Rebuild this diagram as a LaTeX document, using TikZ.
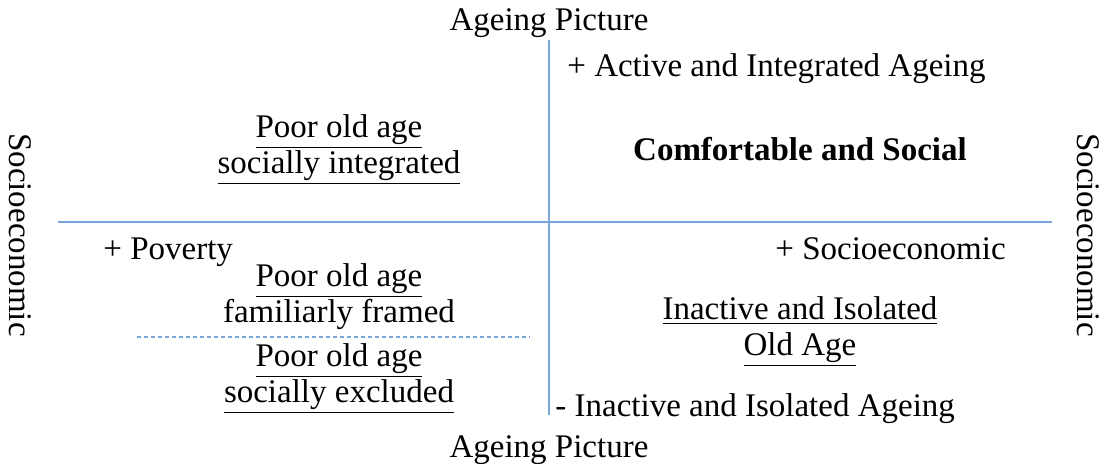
\documentclass[tikz,border=0pt]{standalone}
\usepackage{fontspec}
\setmainfont{Liberation Serif}
\usetikzlibrary{positioning}
\definecolor{axisblue}{RGB}{120,166,218}

\begin{document}
\begin{tikzpicture}[x=0.5pt,y=-0.5pt,inner sep=0pt,
  lbl/.style={font=\fontsize{16.5}{18}\selectfont},
  quad/.style={lbl,align=center},
  axis/.style={draw=axisblue,line width=1pt}]
\useasboundingbox (0,0) rectangle (1105,464);

% axes
\coordinate (vtop) at (549,40);
\coordinate (vbot) at (549,415);
\coordinate (hleft) at (58,222);
\coordinate (hright) at (1052,222);
\coordinate (dleft) at (137,337);
\coordinate (dright) at (530,337);
\draw[axis] (vtop) -- (vbot);
\draw[axis] (hleft) -- (hright);
\draw[axis,line width=0.6pt,dash pattern=on 2pt off 1.5pt] (dleft) -- (dright);

% axis labels
\node[lbl] (ptop) at (549,23) {Ageing Picture};
\node[lbl] (pbot) at (549,450) {Ageing Picture};
\node[lbl,rotate=-90] (sleft) at (20,235) {Socioeconomic};
\node[lbl,rotate=-90] (sright) at (1088,235) {Socioeconomic};

\node[lbl,anchor=west] (active) at (567,69) {+ Active and Integrated Ageing};
\node[lbl,anchor=west] (inactive) at (555,409) {- Inactive and Isolated Ageing};
\node[lbl,anchor=west] (poverty) at (103,252) {+ Poverty};
\node[lbl,anchor=west] (socio) at (775,249) {+ Socioeconomic};

% quadrants
\node[quad] (q1) at (339,150) {\underline{Poor old age}\\\underline{socially integrated}};
\node[quad,font=\fontsize{16.5}{18}\selectfont\bfseries] (q2) at (800,149) {Comfortable and Social};
\node[quad] (q3a) at (339,297) {\underline{Poor old age}\\familiarly framed};
\node[quad] (q3b) at (339,379) {\underline{Poor old age}\\\underline{socially excluded}};
\node[quad] (q4) at (800,332) {\underline{Inactive and Isolated}\\\underline{Old Age}};
\end{tikzpicture}
\end{document}
